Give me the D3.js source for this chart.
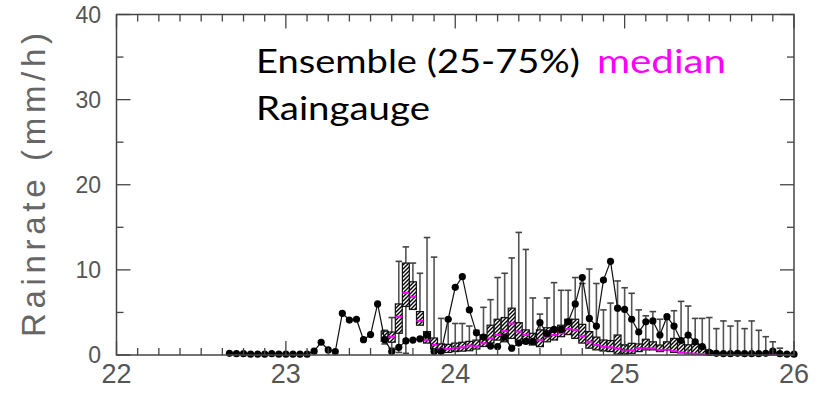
<!DOCTYPE html>
<html><head><meta charset="utf-8">
<script src="https://cdn.jsdelivr.net/npm/d3@7"></script>
<style>body{margin:0;background:#fff}svg{display:block}</style>
</head><body>
<svg id="c" width="823" height="393"></svg>
<script>
// ---- data (x in days, hourly samples) ----
const xTicks = [22, 23, 24, 25, 26];
const yTicks = [0, 10, 20, 30, 40];
const gaugeStartHour = 16; // hours after day 22 00:00
const gaugeValues = [0.2,0.15,0.15,0.1,0.1,0.1,0.15,0.1,0.1,0.1,0.1,0.1,
  0.45,1.5,0.6,0.4,4.9,4.1,4.2,1.8,2.4,6.0,1.8,0.4,0.9,1.65,1.75,1.9,2.35,0.4,0.4,
  4.2,7.95,9.2,5.3,2.6,2.1,1.05,1.0,2.1,0.8,1.4,1.6,1.6,3.8,2.5,3.0,3.0,3.9,6.0,9.1,
  4.3,3.4,8.8,11.0,5.5,5.35,4.2,2.7,3.9,4.0,2.35,4.5,3.4,1.7,2.35,1.55,1.0,0.3,0.2,
  0.15,0.15,0.2,0.15,0.15,0.15,0.2,0.45,0.15,0.1,0.1];
const ensStartHour = 38;
const ensQ1 = [1.6,1.5,2.55,5.7,5.35,3.5,1.4,0.7,0.3,0.3,0.4,0.45,0.5,0.7,1.0,1.4,1.75,1.55,1.95,1.55,
  1.37,1.17,0.98,1.55,1.76,2.15,2.4,1.95,1.4,0.8,0.6,0.47,0.4,0.1,0.1,0.2,0.4,0.6,0.6,0.4,0.6,0.3,
  0.25,0.15,0.1,0.05,0,0,0,0,0,0,0,0,0,0,0];
const ensMed = [1.7,2.15,4.5,7.3,6.85,4.0,1.75,1.2,0.7,0.7,0.8,0.9,1.1,1.0,1.37,1.95,2.35,2.8,3.7,2.75,
  2.35,1.76,1.76,2.15,2.35,2.55,3.05,2.95,2.2,1.55,1.17,0.98,0.9,0.75,0.5,0.55,0.78,0.78,0.78,0.6,0.6,0.45,
  0.3,0.2,0.15,0.1,0.05,0,0,0,0,0,0,0,0,0,0];
const ensQ3 = [2.8,2.7,6.0,10.8,8.6,5.1,2.75,2.0,1.3,1.25,1.4,1.5,1.6,1.75,2.35,3.5,4.2,4.4,5.5,3.8,
  2.95,2.55,2.95,3.2,3.1,3.5,4.2,4.2,3.6,2.75,2.1,1.76,1.7,2.35,1.2,1.37,1.3,1.85,1.55,1.17,1.55,1.95,
  1.55,1.2,1.3,0.9,0.5,0.2,0.2,0.15,0.15,0.1,0.1,0.1,0.1,0.1,0.1];
const ensMax = [2.9,4.4,11.0,12.7,10.8,9.6,13.8,11.5,4.3,4.2,3.7,3.7,3.4,2.9,5.6,6.5,9.1,9.6,11.4,14.4,
  12.4,6.7,4.8,6.7,8.5,7.6,7.6,9.1,8.4,10.1,8.4,5.3,6.1,8.7,7.9,7.25,5.3,4.6,5.1,4.2,4.2,5.2,
  6.3,5.75,4.3,4.3,4.4,3.1,4.0,3.4,4.0,3.1,4.0,2.9,2.15,1.55,0.8];
const ensMin = [1.3,0.8,0.3,0.2,0,0,0,0,0,0,0,0,0,0,0,0,0,0,0,0,0,0,0,0,0,0,0,0,0,0,0,0,0,0,0,0,0,0,0,0,0,0,
  0,0,0,0,0,0,0,0,0,0,0,0,0,0,0];

// ---- layout ----
const L = 116.5, R = 794, T = 14.5, B = 355;
const svg = d3.select('#c');
const x = d3.scaleLinear().domain([22, 26]).range([L, R]);
const y = d3.scaleLinear().domain([0, 40]).range([B, T]);
const hourToDay = h => 22 + h / 24;
const hw = (x(hourToDay(1)) - x(hourToDay(0)));

// hatch pattern
const defs = svg.append('defs');
const pat = defs.append('pattern').attr('id', 'hatch').attr('patternUnits', 'userSpaceOnUse')
  .attr('width', 4).attr('height', 4);
pat.append('rect').attr('width', 4).attr('height', 4).attr('fill', '#fff');
pat.append('path').attr('d', 'M-1,1 l2,-2 M0,4 l4,-4 M3,5 l2,-2').attr('stroke', '#000').attr('stroke-width', 1.4);

// ---- ensemble ----
const ens = ensQ1.map((q1, i) => ({
  t: hourToDay(ensStartHour + i), q1, med: ensMed[i], q3: ensQ3[i], max: ensMax[i], min: ensMin[i]
}));
const gE = svg.append('g');
const bw = hw * 0.98, cw = 6.5;
ens.forEach(d => {
  const cx = x(d.t);
  gE.append('line').attr('x1', cx).attr('x2', cx).attr('y1', y(d.q3)).attr('y2', y(d.max))
    .attr('stroke', '#555').attr('stroke-width', 1.6);
  gE.append('line').attr('x1', cx - cw / 2).attr('x2', cx + cw / 2).attr('y1', y(d.max)).attr('y2', y(d.max))
    .attr('stroke', '#444').attr('stroke-width', 1.6);
  if (d.min > 0) {
    gE.append('line').attr('x1', cx).attr('x2', cx).attr('y1', y(d.q1)).attr('y2', y(d.min))
      .attr('stroke', '#555').attr('stroke-width', 1.6);
    gE.append('line').attr('x1', cx - cw / 2).attr('x2', cx + cw / 2).attr('y1', y(d.min)).attr('y2', y(d.min))
      .attr('stroke', '#444').attr('stroke-width', 1.6);
  }
});
ens.forEach(d => {
  const cx = x(d.t);
  gE.append('rect').attr('x', cx - bw / 2).attr('width', bw)
    .attr('y', y(d.q3)).attr('height', Math.max(0.5, y(d.q1) - y(d.q3)))
    .attr('fill', 'url(#hatch)').attr('stroke', '#111').attr('stroke-width', 1.2);
});
ens.forEach(d => {
  const cx = x(d.t);
  gE.append('line').attr('x1', cx - bw / 2).attr('x2', cx + bw / 2).attr('y1', y(d.med)).attr('y2', y(d.med))
    .attr('stroke', '#ff00ff').attr('stroke-width', 2);
});

// ---- raingauge ----
const gauge = gaugeValues.map((v, i) => ({ t: hourToDay(gaugeStartHour + i), v }));
svg.append('path').datum(gauge)
  .attr('d', d3.line().x(d => x(d.t)).y(d => y(d.v)))
  .attr('fill', 'none').attr('stroke', '#111').attr('stroke-width', 1.2);
svg.append('g').selectAll('circle').data(gauge).join('circle')
  .attr('cx', d => x(d.t)).attr('cy', d => y(d.v)).attr('r', 3.6).attr('fill', '#000');

// ---- frame & ticks ----
const axisCol = '#444';
svg.append('rect').attr('x', L).attr('y', T).attr('width', R - L).attr('height', B - T)
  .attr('fill', 'none').attr('stroke', axisCol).attr('stroke-width', 1.5);
const gT = svg.append('g').attr('stroke', axisCol).attr('stroke-width', 1.3);
const xMinor = d3.range(22, 26.0001, 0.125);
xMinor.forEach(v => {
  const major = Math.abs(v - Math.round(v)) < 1e-6;
  const len = major ? 14 : 7;
  gT.append('line').attr('x1', x(v)).attr('x2', x(v)).attr('y1', B).attr('y2', B - len);
  gT.append('line').attr('x1', x(v)).attr('x2', x(v)).attr('y1', T).attr('y2', T + len);
});
d3.range(0, 40.001, 5).forEach(v => {
  const major = v % 10 === 0;
  const len = major ? 14 : 7;
  gT.append('line').attr('x1', L).attr('x2', L + len).attr('y1', y(v)).attr('y2', y(v));
  gT.append('line').attr('x1', R).attr('x2', R - len).attr('y1', y(v)).attr('y2', y(v));
});

// tick labels
const font = "'Liberation Sans', Arial, sans-serif";
svg.append('g').selectAll('text').data(yTicks).join('text')
  .attr('x', 101).attr('y', d => y(d)).attr('dy', '0.36em')
  .attr('text-anchor', 'end').attr('font-family', font).attr('font-size', 23)
  .attr('fill', '#555').text(d => d);
svg.append('g').selectAll('text').data(xTicks).join('text')
  .attr('x', d => x(d)).attr('y', 383)
  .attr('text-anchor', 'middle').attr('font-family', font).attr('font-size', 27)
  .attr('fill', '#555').text(d => d);

// y label
svg.append('text').attr('transform', 'translate(45,185) rotate(-90)')
  .attr('text-anchor', 'middle').attr('font-family', font).attr('font-size', 33)
  .attr('fill', '#666').attr('textLength', 304).attr('lengthAdjust', 'spacing')
  .text('Rainrate (mm/h)');

// legend text
const lf = "Lato, 'Open Sans', sans-serif";
svg.append('text').attr('x', 256).attr('y', 73).attr('font-family', lf).attr('font-size', 32)
  .attr('fill', '#000').attr('textLength', 324).attr('lengthAdjust', 'spacingAndGlyphs').text('Ensemble (25-75%)');
svg.append('text').attr('x', 597).attr('y', 73).attr('font-family', lf).attr('font-size', 32)
  .attr('fill', '#ff00ff').attr('textLength', 129).attr('lengthAdjust', 'spacingAndGlyphs').text('median');
svg.append('text').attr('x', 256).attr('y', 120).attr('font-family', lf).attr('font-size', 32)
  .attr('fill', '#000').attr('textLength', 174).attr('lengthAdjust', 'spacingAndGlyphs').text('Raingauge');
</script>
</body></html>
